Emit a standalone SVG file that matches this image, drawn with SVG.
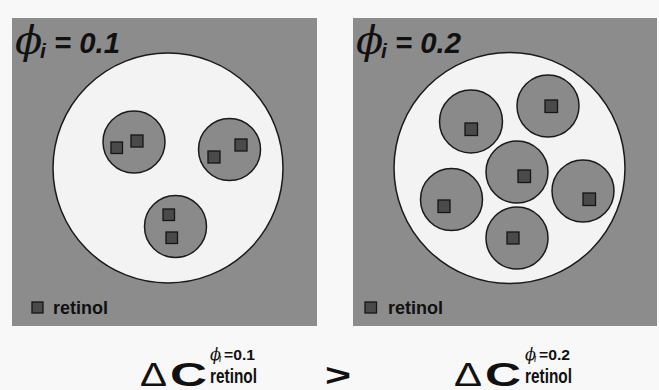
<svg xmlns="http://www.w3.org/2000/svg" width="659" height="390" viewBox="0 0 659 390">
<style>
.bg{fill:#8c8c8c}
.big{fill:#f3f3f3;stroke:#1a1a1a;stroke-width:1.5}
.mic{fill:#8a8a8a;stroke:#1a1a1a;stroke-width:1.5}
.sq{fill:#4a4a4a;stroke:#151515;stroke-width:1.3}
.phi{font-family:"DejaVu Serif","Liberation Serif",serif;font-style:italic;fill:#111}
.tt{font-family:"Liberation Sans",Arial,sans-serif;font-weight:bold;font-style:italic;fill:#111}
.lg{font-family:"Liberation Sans",Arial,sans-serif;font-weight:bold;font-size:18px;fill:#111}
.eq{font-family:"Liberation Sans",Arial,sans-serif;fill:#111}
.b{font-weight:bold}
</style>
<rect width="659" height="390" fill="#f8f8f8"/>
<g id="panel1">
<rect class="bg" x="12" y="18" width="305" height="308"/>
<circle class="big" cx="168" cy="168" r="115"/>
<g id="m1"><circle class="mic" cx="134" cy="142" r="31"/><rect class="sq" x="111" y="142" width="11.5" height="11.5"/><rect class="sq" x="131" y="135" width="12" height="12"/></g>
<g id="m2"><circle class="mic" cx="229.5" cy="149.5" r="31"/><rect class="sq" x="208" y="151" width="12" height="12"/><rect class="sq" x="235" y="139" width="12" height="12"/></g>
<g id="m3"><circle class="mic" cx="175.5" cy="226.5" r="31"/><rect class="sq" x="163" y="209" width="11.5" height="11.5"/><rect class="sq" x="166" y="232" width="11.5" height="11.5"/></g>
<text class="phi" x="15" y="54" font-size="40">ϕ</text>
<text class="tt" x="40" y="58" font-size="21">i</text>
<text class="tt" x="54" y="53" font-size="30" textLength="66" lengthAdjust="spacingAndGlyphs">= 0.1</text>
<rect class="sq" x="32" y="302" width="11" height="11"/>
<text class="lg" x="53" y="314">retinol</text>
</g>
<g id="panel2">
<rect class="bg" x="353" y="18" width="304" height="308"/>
<circle class="big" cx="509.5" cy="168" r="115.5"/>
<g id="a"><circle class="mic" cx="471" cy="121.5" r="31.5"/><rect class="sq" x="465" y="123" width="12.5" height="12.5"/></g>
<g id="b"><circle class="mic" cx="548" cy="106" r="31"/><rect class="sq" x="545" y="100" width="12.5" height="12.5"/></g>
<g id="c"><circle class="mic" cx="517" cy="172" r="31"/><rect class="sq" x="518" y="170" width="12.5" height="12.5"/></g>
<g id="d"><circle class="mic" cx="451.5" cy="199.5" r="31"/><rect class="sq" x="438" y="200" width="12" height="12.5"/></g>
<g id="e"><circle class="mic" cx="583" cy="191" r="31"/><rect class="sq" x="583" y="193" width="12.5" height="12.5"/></g>
<g id="f"><circle class="mic" cx="517" cy="238" r="31"/><rect class="sq" x="507" y="232" width="12" height="12"/></g>
<text class="phi" x="356" y="54" font-size="40">ϕ</text>
<text class="tt" x="381" y="58" font-size="21">i</text>
<text class="tt" x="395" y="53" font-size="30" textLength="66" lengthAdjust="spacingAndGlyphs">= 0.2</text>
<rect class="sq" x="365" y="302" width="11.5" height="11"/>
<text class="lg" x="388" y="314">retinol</text>
</g>
<g id="equation">
<text class="eq" x="140" y="386" font-size="33" textLength="27" lengthAdjust="spacingAndGlyphs">Δ</text>
<text class="eq b" x="170" y="386" font-size="33.5" textLength="37" lengthAdjust="spacingAndGlyphs">C</text>
<text class="phi" x="210" y="360" font-size="16">ϕ</text>
<text class="eq" x="219" y="362" font-size="10" font-style="italic">ι</text>
<text class="eq b" x="224" y="360" font-size="15" textLength="31" lengthAdjust="spacingAndGlyphs">=0.1</text>
<text class="eq b" x="210" y="383" font-size="20" textLength="47" lengthAdjust="spacingAndGlyphs">retinol</text>
<text class="eq b" x="325" y="386" font-size="32" textLength="26" lengthAdjust="spacingAndGlyphs">&gt;</text>
<text class="eq" x="454" y="386" font-size="33" textLength="28" lengthAdjust="spacingAndGlyphs">Δ</text>
<text class="eq b" x="485" y="386" font-size="33.5" textLength="36" lengthAdjust="spacingAndGlyphs">C</text>
<text class="phi" x="525" y="360" font-size="16">ϕ</text>
<text class="eq" x="534" y="362" font-size="10" font-style="italic">ι</text>
<text class="eq b" x="539" y="360" font-size="15" textLength="31" lengthAdjust="spacingAndGlyphs">=0.2</text>
<text class="eq b" x="525" y="383" font-size="20" textLength="47" lengthAdjust="spacingAndGlyphs">retinol</text>
</g>
</svg>
